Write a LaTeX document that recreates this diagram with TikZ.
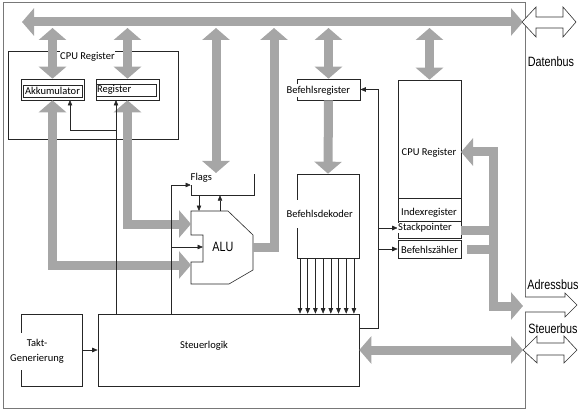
\documentclass[tikz,border=0pt]{standalone}
\usepackage{fontspec}
\setmainfont{Carlito}
\newfontfamily\busfont[FakeStretch=0.8]{Liberation Sans}
\usetikzlibrary{positioning}
\usetikzlibrary{arrows.meta}
\definecolor{busgray}{RGB}{166,166,166}
\definecolor{framegray}{RGB}{120,120,120}
\tikzset{
  box/.style={draw=black!85,line width=0.6pt},
  lbl/.style={fill=white,inner sep=0.5pt,font=\fontsize{10.5}{12}\selectfont},
  ctl/.style={draw=black!85,line width=0.6pt,-{Triangle[length=5.5pt,width=4.5pt]}},
  bus/.style={draw=busgray,line width=9pt,-{Triangle[length=12pt,width=27pt]}},
  bibus/.style={bus,{Triangle[length=12pt,width=27pt]}-{Triangle[length=12pt,width=27pt]}},
  bar/.style={draw=busgray,line width=9pt},
  hollow/.style={draw=black!80,line width=0.6pt,fill=white},
  buslbl/.style={font=\busfont\fontsize{13.5}{14}\selectfont,inner sep=0pt}
}
\begin{document}
\begin{tikzpicture}[x=1pt,y=-1pt]
\useasboundingbox (0,0) rectangle (582,412);
\draw[framegray,line width=1pt] (3,3) rectangle (525,408);

% registers left
\node (CR) [box,minimum width=170pt,minimum height=88pt] at (93,95) {};
\node (AkkuF) [box,minimum width=63pt,minimum height=21pt] at (52.5,89.5) {};
\node (Akku) [box,lbl,minimum width=59pt,minimum height=12pt,inner sep=0pt] at (52.5,91) {Akkumulator};
\node (RegF) [box,minimum width=63pt,minimum height=21pt] at (127.5,89.5) {};
\node (Reg) [box,lbl,minimum width=60pt,minimum height=12pt,text width=58pt,inner sep=1pt,align=left] at (126,90) {Register};

% flags and alu
\node (Flags) [minimum width=63pt,minimum height=21pt] at (222.5,184.5) {};
\draw[box] (Flags.north west) -- (Flags.south west) -- (Flags.south east) -- (Flags.north east);
\draw[box] (191,211) -- (228,211) -- (253,235) -- (253,270) -- (229,284) -- (191,284)
  -- (191,262) -- (203,262) -- (203,235) -- (191,235) -- cycle;
\coordinate (AluA) at (191,224);
\coordinate (AluB) at (191,265);
\coordinate (AluC) at (203,247);
\coordinate (AluOut) at (253,247);

% decoder side
\node (BR) [box,minimum width=63pt,minimum height=21pt] at (328.5,89.5) {};
\node (BD) [box,minimum width=62pt,minimum height=84pt] at (328,216) {};
\node (CPU) [box,minimum width=63pt,minimum height=118pt] at (429.5,139) {};
\node (IX) [box,minimum width=63pt,minimum height=23pt] at (429.5,209.5) {};
\node (SP) [box,minimum width=63pt,minimum height=17pt] at (429.5,230) {};
\node (PC) [box,minimum width=63pt,minimum height=18pt] at (429.5,249) {};

% control
\node (ST) [box,minimum width=261pt,minimum height=72pt] at (228.5,350) {};
\node (TG) [box,minimum width=61pt,minimum height=72pt] at (51.5,350) {};

% gray buses
\coordinate (DL) at (22,22);
\coordinate (DR) at (523,22);
\coordinate (DB) at (0,28);
\draw[bibus] (DL) -- (DR);
\draw[bibus] (AkkuF.north |- DB) -- (AkkuF.north);
\draw[bibus] (RegF.north |- DB) -- (RegF.north);
\coordinate (FlagsIn) at (216,173);
\draw[bibus] (FlagsIn |- DB) -- (FlagsIn);
\coordinate (AluUp) at (274,28);
\draw[bus] (AluOut) -| (AluUp);
\draw[bibus] (BR.north |- DB) -- (BR.north);
\draw[bus] (BR.south) -- (BD.north);
\draw[bibus] (CPU.north |- DB) -- (CPU.north);
\draw[bibus] (AkkuF.south) |- (AluB);
\draw[bibus] (RegF.south) |- (AluA);
\coordinate (CpuIn) at (461,152);
\coordinate (AdrBend) at (493,306);
\coordinate (AdrOut) at (523,306);
\draw[bibus] (CpuIn) -| (AdrBend) -- (AdrOut);
\draw[bar] (SP.east) -- (SP.east -| AdrBend);
\draw[bar] ([xshift=6pt]PC.east) -- (PC.east -| AdrBend);
\coordinate (SB) at (523,350);
\draw[bibus] (ST.east) -- (SB);

% thin lines
\draw[ctl] (TG.east) -- (ST.west);
\coordinate (RegIn) at (116,100);
\coordinate (AkkuIn) at (70,100);
\coordinate (RegBr) at (116,130);
\draw[ctl] (ST.north -| RegIn) -- (RegIn);
\draw[ctl] (RegBr) -| (AkkuIn);
\coordinate (CtlX) at (171,185);
\coordinate (FlagsCtl) at (191,185);
\draw[ctl] (ST.north -| CtlX) |- (FlagsCtl);
\draw[ctl] (CtlX |- AluC) -- (AluC);
\coordinate (FD) at (199,211);
\coordinate (FU) at (220,211);
\draw[ctl] (Flags.south -| FD) -- (FD);
\draw[ctl] (FU) -- (Flags.south -| FU);
\foreach \x [count=\i] in {300,307.7,315.4,323.1,330.8,338.5,346.2,353.9}{
  \coordinate (D\i) at (\x,0);
  \draw[ctl] (BD.south -| D\i) -- (ST.north -| D\i);
}
\coordinate (FB) at (378,328);
\draw[ctl] (ST.east |- FB) -- (FB) |- (BR.east);
\draw[ctl] (FB |- 0,228) -- (SP.west |- 0,228);
\draw[ctl] (FB |- 0,249) -- (PC.west |- 0,249);

% labels
\node (CRT) [lbl,inner ysep=3pt] at (87.5,57) {CPU Register};
\node (FlagsT) [lbl,anchor=west,inner ysep=2pt] at (190,178) {Flags};
\node (ALU) [buslbl] at (223,247) {ALU};
\node (BRT) [lbl,anchor=west,inner ysep=2pt] at (286,90.5) {Befehlsregister};
\node (BDT) [lbl,anchor=west,inner ysep=10pt] at (286,214) {Befehlsdekoder};
\node (CPUT) [lbl] at (429,153) {CPU Register};
\node (IXT) [lbl,anchor=west,inner xsep=2pt] at (399,213) {Indexregister};
\node (SPT) [lbl,anchor=west,inner xsep=1pt] at (397,228) {Stackpointer};
\node (PCT) [lbl,anchor=west,inner xsep=1pt] at (400,250) {Befehlszähler};
\node (STT) [lbl,fill=none] at (204,346) {Steuerlogik};
\node (TGT) [lbl,align=center,inner ysep=6pt,font=\fontsize{10.5}{15}\selectfont] at (37,351.5) {Takt-\\Generierung};

% external buses
\draw[hollow] (522,22) -- (536,7) -- (536,17) -- (563,17) -- (563,7) -- (576,22)
  -- (563,37) -- (563,28) -- (536,28) -- (536,37) -- cycle;
\draw[hollow] (525,297) -- (565,297) -- (565,293) -- (577,305) -- (565,317) -- (565,312) -- (525,312);
\draw[hollow] (523,350) -- (537,336) -- (537,343) -- (564,343) -- (564,336) -- (577,350)
  -- (564,363) -- (564,355) -- (537,355) -- (537,363) -- cycle;
\node (DBL) [buslbl] at (551,62) {Datenbus};
\node (ABL) [buslbl] at (553,285) {Adressbus};
\node (SBL) [buslbl] at (553,329) {Steuerbus};
\end{tikzpicture}
\end{document}
